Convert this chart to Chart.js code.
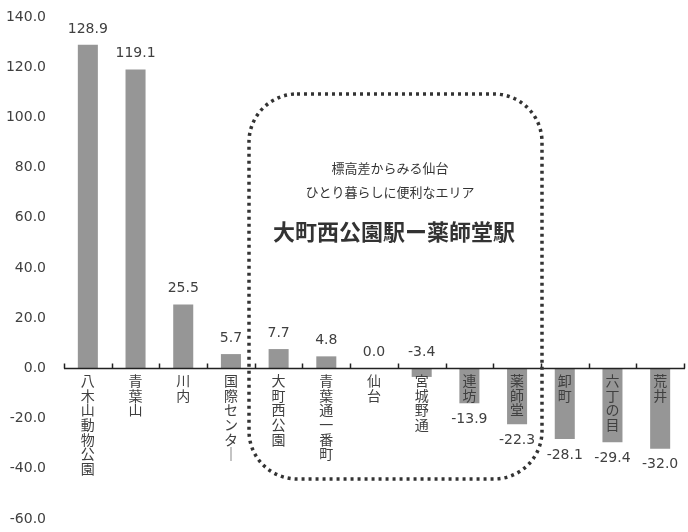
<!DOCTYPE html>
<html>
<head>
<meta charset="utf-8">
<script src="https://cdn.jsdelivr.net/npm/chart.js@4.4.0/dist/chart.umd.min.js"></script>
<style>
  html, body { margin: 0; padding: 0; background: #fff; }
  #wrap { width: 688px; height: 532px; }
</style>
</head>
<body>
<div id="wrap"><canvas id="barChart" width="688" height="532"></canvas></div>
<script>
// 駅ごとの標高差
const stations = ['八木山動物公園', '青葉山', '川内', '国際センター', '大町西公園', '青葉通一番町', '仙台', '宮城野通', '連坊', '薬師堂', '卸町', '六丁の目', '荒井'];
const values = [128.9, 119.1, 25.5, 5.7, 7.7, 4.8, 0.0, -3.4, -13.9, -22.3, -28.1, -29.4, -32.0];
const yMin = -60, yMax = 140, yStep = 20;
const noteLines = ['標高差からみる仙台', 'ひとり暮らしに便利なエリア'];
const noteTitle = '大町西公園駅ー薬師堂駅';

const numFont = "'DejaVu Sans', 'Noto Sans CJK JP', sans-serif";
const jpFont = "'Noto Sans CJK JP', sans-serif";
const textColor = '#404040';

// 縦書き用に1文字ずつ分ける（長音は縦棒に）
const verticalLabels = stations.map(s => s.split('').map(c => c === 'ー' ? '｜' : c));

const extras = {
  id: 'extras',
  afterDatasetsDraw(chart) {
    const ctx = chart.ctx;
    const x = chart.scales.x, y = chart.scales.y;
    const zero = Math.round(y.getPixelForValue(0)) + 0.5;
    const step = x.getPixelForValue(1) - x.getPixelForValue(0);
    const left = x.getPixelForValue(0) - step / 2;
    const right = x.getPixelForValue(stations.length - 1) + step / 2;

    // category axis at zero with small upward ticks
    ctx.save();
    ctx.strokeStyle = '#222';
    ctx.lineWidth = 1.5;
    ctx.beginPath();
    ctx.moveTo(left, zero);
    ctx.lineTo(right + 1, zero);
    ctx.stroke();
    for (let i = 0; i <= stations.length; i++) {
      const px = Math.round(left + i * step) + 0.5;
      ctx.beginPath();
      ctx.moveTo(px, zero);
      ctx.lineTo(px, zero - 5);
      ctx.stroke();
    }
    ctx.restore();

    // vertical category labels, drawn over the bars
    ctx.save();
    ctx.font = '14px ' + jpFont;
    ctx.fillStyle = textColor;
    ctx.textAlign = 'center';
    ctx.textBaseline = 'top';
    verticalLabels.forEach((chars, i) => {
      const cx = x.getPixelForValue(i);
      chars.forEach((c, k) => ctx.fillText(c, cx, zero + 5 + k * 14.7));
    });
    ctx.restore();

    // value labels
    ctx.save();
    ctx.font = '14px ' + numFont;
    ctx.fillStyle = textColor;
    ctx.textAlign = 'center';
    ctx.textBaseline = 'middle';
    chart.getDatasetMeta(0).data.forEach((bar, i) => {
      const v = values[i];
      let ly;
      if (v >= 0) ly = bar.y - 16;
      else if (v > -5) ly = zero - 16;
      else ly = bar.y + 16;
      ctx.fillText(v.toFixed(1), bar.x, ly);
    });
    ctx.restore();

    // dotted rounded box with the note
    const bx = 249, by = 94, bw = 293, bh = 385;
    ctx.save();
    ctx.strokeStyle = '#333';
    ctx.lineWidth = 3.5;
    ctx.setLineDash([3, 4]);
    ctx.beginPath();
    ctx.roundRect(bx, by, bw, bh, 48);
    ctx.stroke();
    ctx.restore();

    ctx.save();
    ctx.fillStyle = '#333';
    ctx.textAlign = 'center';
    ctx.textBaseline = 'middle';
    ctx.font = '13px ' + jpFont;
    ctx.fillText(noteLines[0], 390, 168);
    ctx.fillText(noteLines[1], 390, 192);
    ctx.font = 'bold 22px ' + jpFont;
    ctx.fillText(noteTitle, 394, 232);
    ctx.restore();
  }
};

new Chart(document.getElementById('barChart').getContext('2d'), {
  type: 'bar',
  data: {
    labels: stations,
    datasets: [{
      data: values,
      backgroundColor: '#969696',
      barPercentage: 0.42,
      categoryPercentage: 1.0
    }]
  },
  options: {
    responsive: false,
    animation: false,
    layout: { padding: { left: 0, right: 4, top: 0, bottom: 0 } },
    plugins: { legend: { display: false }, tooltip: { enabled: false } },
    scales: {
      x: { display: false },
      y: {
        min: yMin,
        max: yMax,
        grid: { display: false, drawTicks: false },
        border: { display: false },
        afterFit(scale) {
          // fixed axis box so the plot area matches the original
          scale.width = 64;
          scale.paddingTop = 17;
          scale.paddingBottom = 13;
        },
        ticks: {
          stepSize: yStep,
          padding: 18,
          color: textColor,
          font: { family: numFont, size: 14 },
          callback: v => v.toFixed(1)
        }
      }
    }
  },
  plugins: [extras]
});
</script>
</body>
</html>
